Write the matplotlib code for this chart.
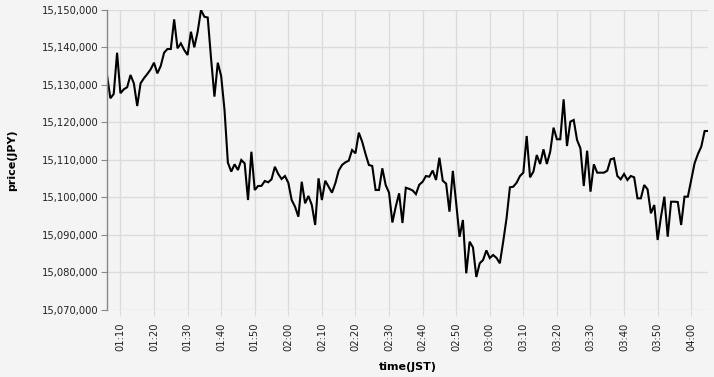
import matplotlib
matplotlib.use("Agg")
import matplotlib.pyplot as plt
import matplotlib.dates as mdates
import matplotlib.ticker as mticker
import pandas as pd

# one reading per minute, 01:06 .. 04:05 (JST)
start_time = "2024-01-01 01:06"
n_points = 180

price = [
    15132670, 15126450, 15127600, 15138600, 15127800, 15128850, 15129400, 15132670,
    15130450, 15124400, 15130450, 15131800, 15132930, 15134180, 15135950, 15133100,
    15135070, 15138600, 15139600, 15139600, 15147500, 15139780, 15141100, 15139330,
    15138000, 15144200, 15140050, 15144200, 15150000, 15148200, 15148000, 15137000,
    15126900, 15135950, 15132400, 15123330, 15109300, 15106900, 15108850, 15107330,
    15110000, 15109100, 15099330, 15112200, 15102000, 15103070, 15103100, 15104400,
    15104050, 15104850, 15108200, 15106270, 15104930, 15105730, 15103950, 15099330,
    15097550, 15094880, 15104200, 15098450, 15100400, 15098000, 15092670, 15105120,
    15099330, 15104480, 15102880, 15101280, 15103780, 15107150, 15108670, 15109380,
    15109820, 15112670, 15111780, 15117280, 15114880, 15111600, 15108670, 15108400,
    15102000, 15102000, 15107780, 15103330, 15101280, 15093330, 15097550, 15101120,
    15093200, 15102600, 15102300, 15101900, 15100900, 15103400, 15104200, 15105730,
    15105550, 15107200, 15104670, 15110600, 15104480, 15103700, 15096220, 15107100,
    15098500, 15089500, 15094000, 15079780, 15088220, 15086700, 15078800, 15082450,
    15083330, 15085900, 15083850, 15084670, 15083900, 15082450, 15088220, 15094450,
    15102720, 15102880, 15103950, 15105730, 15106620, 15116400, 15105380, 15106900,
    15111330, 15108930, 15112850, 15108930, 15112200, 15118620, 15115530, 15115530,
    15126180, 15113730, 15120220, 15120670, 15115330, 15113120, 15103070, 15112480,
    15101550, 15108850, 15106620, 15106620, 15106620, 15107150, 15110180, 15110450,
    15105730, 15104850, 15106270, 15104670, 15105730, 15105380, 15099780, 15099780,
    15103330, 15102180, 15095780, 15098000, 15088670, 15094880, 15100220, 15089550,
    15098880, 15098880, 15098800, 15092670, 15100220, 15100220, 15104670, 15109120,
    15111600, 15113560, 15117730, 15117730,
]

y_min, y_max, y_step = 15070000, 15150000, 10000

times = pd.date_range(start_time, periods=n_points, freq="min")

bg = "#f4f4f4"
grid = "#dcdcdc"

fig = plt.figure(figsize=(7.14, 3.77), dpi=100, facecolor=bg)
ax = fig.add_axes([107 / 714, 1 - 310 / 377, 601 / 714, 300 / 377])
ax.set_facecolor(bg)

ax.plot(times, price, color="black", linewidth=1.5, solid_joinstyle="miter")

ax.set_xlim(times[0], times[-1])
ax.set_ylim(y_min, y_max)
ax.yaxis.set_major_locator(mticker.MultipleLocator(y_step))
ax.yaxis.set_major_formatter(mticker.FuncFormatter(lambda v, p: f"{v:,.0f}"))
ax.xaxis.set_major_locator(mdates.MinuteLocator(byminute=range(0, 60, 10)))
ax.xaxis.set_major_formatter(mdates.DateFormatter("%H:%M"))

ax.grid(True, color=grid, linewidth=1)
ax.set_axisbelow(True)

for s in ["top", "right", "bottom"]:
    ax.spines[s].set_visible(False)
ax.spines["left"].set_color("#888888")
ax.spines["left"].set_linewidth(1)

ax.tick_params(axis="x", length=4, color=grid, pad=5, labelsize=7.2,
               labelcolor="#222222", labelrotation=90)
ax.tick_params(axis="y", length=4, color="#888888", pad=2, labelsize=7.2,
               labelcolor="#222222")

ax.set_xlabel("time(JST)", fontsize=8, fontweight="bold", labelpad=8)
ax.set_ylabel("price(JPY)", fontsize=8, fontweight="bold", labelpad=17.5)

fig.savefig("out.png", dpi=100, facecolor=bg)
